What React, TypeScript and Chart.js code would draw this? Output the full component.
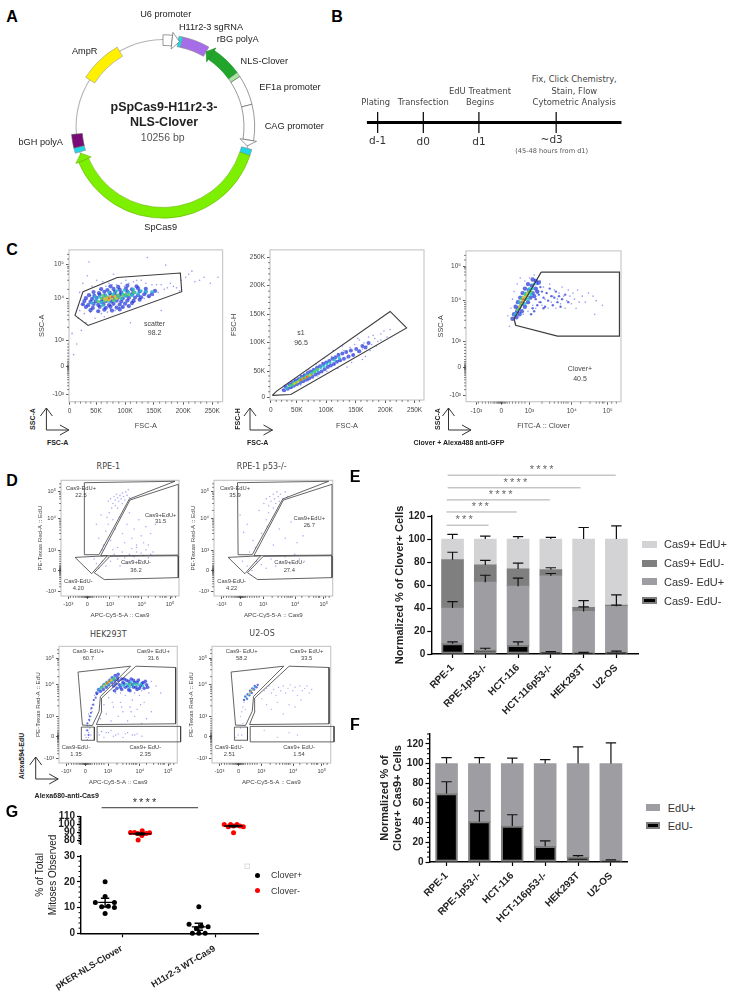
import React, { useEffect, useRef } from "react";
import { Chart, registerables } from "chart.js";
Chart.register(...registerables);

const ARIAL = '"Liberation Sans", Arial, sans-serif';
const DEJA = '"DejaVu Sans", sans-serif';

/* ---------- A: plasmid map (degrees clockwise from the top) ---------- */
const plasmidSpans = [6, 4, 2.5, 17.5, 4, 20, 3, 19, 23, 5.5, 4, 138.5, 6, 3.5, 8.5, 37.5, 27.5, 30];
const plasmidColors = ["#ffffff", "transparent", "#1fd5e8", "#a56ee8", "transparent", "#21a52a", "#a8e8a0", "#ffffff", "#ffffff", "transparent", "#1fd5e8", "#7cf000", "transparent", "#1fd5e8", "#7a0a78", "transparent", "#fff000", "transparent"];
const plasmidEdges = ["#555", "transparent", "#888", "#888", "transparent", "#1a8a22", "#777", "#555", "#555", "transparent", "#888", "#6ab000", "transparent", "#888", "#555", "transparent", "#999", "transparent"];
const plasmidArrows = [[0, 1, 5], [5, -1, 4], [8, 1, 4], [11, 1, 5]];
const plasmidLabels: any[] = [["U6 promoter", 165.7, 15.3], ["H11r2-3 sgRNA", 211, 28.3], ["rBG polyA", 237.7, 40], ["NLS-Clover", 264.3, 61.7], ["EF1a promoter", 290, 87.7], ["CAG promoter", 294.3, 126.7], ["AmpR", 84.7, 51.7], ["bGH polyA", 40.7, 143.3], ["SpCas9", 160.7, 227.7]];

/* ---------- B: timeline ---------- */
const timelineEvents = [4.3, 22.2, 44, 74.3];
const timelineTop: any[] = [["Plating", 375.7, 101.7], ["Transfection", 423.3, 101.7], ["EdU Treatment", 480, 90.7], ["Begins", 480, 101.7], ["Fix, Click Chemistry,", 574.3, 79.3], ["Stain, Flow", 574.3, 90.7], ["Cytometric Analysis", 574.3, 101.7]];
const timelineDays: any[] = [["d-1", 377.7, 140], ["d0", 423.3, 141], ["d1", 479, 141], ["~d3", 551.7, 139.3]];

/* ---------- flow axes, in display channel % ---------- */
const c1XPos = [0.3, 17.6, 36.5, 55.3, 74.4, 93.3];
const kLabels = ["0", "50K", "100K", "150K", "200K", "250K"];
const c1XMinor = [4, 7.5, 11, 14.2, 21, 24.8, 28.6, 32.4, 40, 44, 47.6, 51.5, 59, 63, 66.8, 70.6, 78, 82, 85.8, 89.6, 97];
const c2XPos = [0.6, 17.4, 36.4, 55.7, 74.9, 93.9];
const c2YPos = [1.7, 19.2, 38.2, 57.2, 76.2, 95];
const c2YMinor = [5.5, 9, 12.5, 16, 23, 27, 30.5, 34.5, 42, 46, 49.5, 53.5, 61, 65, 68.5, 72.5, 80, 84, 87.5, 91.5];
const c1YPos = [4.7, 23.2, 40.5, 68.2, 90.3];
const c3YPos = [4.3, 22.6, 40, 67.4, 89.8];
const c3XPos = [6.7, 22.7, 40.9, 68.2, 91.5];
const dXPos = [6.2, 22.3, 41.5, 68.4, 92.4];
const dYPos = [4.2, 22.1, 39.7, 66.9, 90];
const hXPos = [6.2, 22.3, 41.5, 68.4, 92.4];
const hYPos = [4.2, 22.6, 39.8, 67, 90];
const biexLabels = ["-10³", "0", "10³", "10⁴", "10⁵"];
const biexMinor = [8, 10.5, 12.5, 14.5, 16, 17.5, 18.5, 19.5, 20.3, 21, 21.5, 22, 22.5, 23, 23.5, 24, 24.8, 25.6, 26.6, 28, 30, 32, 34, 36, 38, 49, 54, 57, 59.5, 61.5, 63, 64.5, 65.8, 74, 80, 84, 86, 88, 89, 94, 97];

/* ---------- C: gates and events (channel %) ---------- */
const gateScatter = [9.1, 72.5, 31.4, 81.8, 72.5, 84.8, 73.4, 72.5, 12.4, 50.2, 3.9, 56.9, 9.1, 72.5];
const gateSinglets = [1.5, 3.1, 13.5, 3.7, 88.7, 48, 78, 59, 4.3, 5.9, 1.5, 3.1];
const gateClover = [48.5, 85.9, 99, 85.9, 99, 43.5, 59, 43.5, 32, 50.7, 31, 55, 48.5, 85.9];

const c1Sparse = [2,45,3,31,5,38,6,55,7,60,8,47,9,64,10,58,11,52,12,83,13,92,7,72,9,78,14,70,14,59,15,76,17,55,18,80,19,60,20,74,21,58,22,79,23,56,24,76,25,59,26,78,27,61,28,77,29,84,30,60,31,77,33,62,34,78,35,62,36,76,37,80,38,63,39,78,41,66,42,79,43,66,44,80,46,68,47,80,49,68,50,78,52,69,54,77,55,70,57,77,58,72,60,77,62,74,64,75,66,78,68,76,70,75,72,73,73,80,76,82,78,84,80,86,82,79,85,80,88,82,92,78,97,82,51,95,63,90,40,52,60,60];
const c1Blue = [14,60.3,19,59.6,23,60.6,28,60,33,60.8,11,62.4,15.5,61.8,20,62.5,24,61.9,27,62.6,31,62,35,62.4,39,63,9,64.2,12.5,63.6,16,64.4,19,63.8,22.5,64.3,26,63.7,29,64.5,33,64,36.5,64.6,41,65,10,66.3,14,65.7,17.5,66.2,21,65.8,24,66.4,27.5,66,31,66.5,34,66,38,66.6,42,66.4,46,67.2,11,68.2,15,67.7,18,68.4,22,67.8,25,68.3,28.5,67.9,32,68.5,35,68,39,68.4,43,68.6,47,68.8,52,69.5,13,70.2,16.5,69.7,20,70.4,23.5,69.9,27,70.3,30,70,33.5,70.5,37,70,41,70.6,45,70.2,49,70.8,54,71,16,72.2,19.5,71.6,23,72.4,26.5,71.8,30,72.3,34,71.9,38,72.5,42,72,46,72.6,50,72.4,56,73,21,74.2,25,73.6,29,74.3,33,73.8,37,74.4,41,74,45,74.6,50,74.4,27,76,32,75.6,38,76.4,44,76];
const c1Cyan = [15,65,18,67,21,65.5,20,69,23,67,24,70,26,66,27,69,29,71,30,67,32,69.5,34,68,35,71,37,69.5,39,72,41,70,43,72,45,71,47,73,50,72.5,17,69,22,63.5,26,72,31,73,36,73.5,54,72.5,42,74];
const c1Green = [19,66,21,68,23,66.5,24,69,25.5,67,27,68.5,28,70,30,68.5,32,70.5,33,68.5,35,70,37,71,22,70,29,66.5,39,70.5,42,72];
const c1Hot = [23,68,25,68.5,26,67,28,68,27,69.5,30,69.5,31,68,24,67];
const c1Core = [26,68,28,69];

const c2Sparse = [8,7,10,6,12,10,14,8,16,13,20,10,22,17,25,13,28,21,31,16,34,25,37,19,40,29,38,23,42,24,44,31,46,26,48,33,50,28,52,35,54,30,55,37,57,32,58,40,60,34,61,38,63,36,64,42,66,37,67,43,68,41,70,39,72,44,74,46,76,42,44,21,50,22,60,27,53,25,47,36,41,33,35,28,30,24,25,20,57,41,69,36,72,40,65,33,62,29,78,47];
const c2Blue = [9,6.5,10,9,11.5,7.5,12.5,10.5,13.5,8.5,14.5,11.5,15.5,9.5,16.5,13,17.5,10.5,18.5,14,19.5,11.5,20.5,15.5,21.5,12.5,22.5,16.5,23.5,13.5,24.5,18,25.5,14.5,26.5,19,27.5,15.5,28.5,20,29.5,17,30.5,21.5,31.5,18,32.5,22.5,33.5,19,34.5,24,35.5,20.5,36.5,25,37.5,22,38.5,26,39.5,23,40.5,27.5,41.5,24,42.5,28.5,43.5,25.5,44.5,30,45.5,26.5,47,31,48,27.5,49.5,32,51,29,52.5,33,54,30,56,34,58,32.5,60,36,62,35,64,38];
const c2Cyan = [11,8,13,9.5,14.5,10,15.5,11.5,17,12,18.5,12.5,19.5,14,21,14.5,22.5,15,23.5,16.5,25,16.5,26.5,17.5,28,18.5,29.5,19.5,31,20,33,21.5,35,22.5,37,24,39,25,42,26.5,45,28];
const c2Green = [13,9.5,15,10.5,17,11.5,19,13,21,14,23,15,25,16,27,17.5,29,19,31,20.5];
const c2Hot = [16,11,18,12,20,13.5,22,14.5,24,15.5,26,16.5];
const c2Core = [20,13.5,22,14.5,24,15.5];

const c3Sparse = [27,57,28,50,29,62,30,68,31,73,32,52,33,78,35,82,37,58,38,80,40,60,41,82,43,64,44,84,45,62,46,72,47,66,48,80,49,64,50,76,51,68,52,72,53,62,54,78,55,66,56,70,57,74,58,62,59,68,60,72,61,65,62,76,63,70,64,62,65,67,66,74,67,70,68,65,69,72,70,68,71,62,72,74,73,66,75,70,77,66,79,72,82,70,84,67,88,64,83,58];
const c3Mid = [44,60,46,64,45,68,47,71,48,66,50,69,49,73,51,63,52,72,53,67,54,75,55,70,56,64,57,69,58,73,59,66,60,70,61,63,62,68,64,71,66,66,46,78,43,62,48,76,50,62,42,58];
const c3Blue = [30,55,31,58,32.5,56,33,60,34.5,58,32,63,34,62,36,60,33.5,66,36,65,38,63,35,69,37.5,68,40,66,36.5,72,39,71,41.5,69,38,75,40.5,74,43,72,40,78,42.5,77,45,75,43,81,45,80,47,79,44,70,46,73];
const c3Cyan = [32,58,33.5,61,35,63,34.5,66,36.5,66,38,65,36.5,69,38.5,69,40,68,38.5,72,40.5,72,42,71,41,75,43,75,44,78];
const c3Green = [33.5,61,35,64,36.5,66,36,68,38,68,38,71,39.5,70,40.5,73,42,73];
const c3Hot = [34.5,63,36,65.5,37,67,37,69,38.5,69.5,39.5,71.5];
const c3Core = [36,66,37,68];

/* ---------- D: gates and events ---------- */
const gateNegPos = [19.8, 98, 96.6, 99.2, 57.9, 83.9, 32.2, 35.7, 20.3, 35.7, 19.8, 98];
const gatePosPos = [99.4, 96.6, 58.5, 83, 33.6, 34.8, 99.4, 35.4, 99.4, 96.6];
const gateNegNeg = [11.9, 33.4, 39.3, 34.8, 26, 19.3, 11.9, 33.4];
const gatePosNeg = [41.5, 34.3, 99.4, 34.8, 99.4, 15.9, 36.7, 14.2, 28.2, 20.1, 41.5, 34.3];
const gateHNegPos = [16.1, 78, 60.5, 83, 35, 57, 33.9, 44.4, 28.2, 32.2, 19.8, 32.5, 16.1, 78];
const gateHPosPos = [65, 83, 98.6, 81.9, 98.6, 33.6, 31.6, 33, 36.2, 44.4, 35.9, 55.6, 65, 83];
const gateHNegNeg = [18.9, 30.8, 29.9, 30.8, 29.9, 19.5, 18.9, 19.5, 18.9, 30.8];
const gateHPosNeg = [32.2, 31.4, 102.8, 31.4, 102.8, 18.1, 32.2, 18.1, 32.2, 31.4];

const rpeEvents = [40,82,42,84,44,80,45,86,46,83,47,88,48,85,49,82,50,87,51,84,52,89,53,86,54,83,55,90,56,87,57,92,58,85,46,78,43,76,41,72,39,68,52,80,48,76,30,62,32,50,34,70,36,44,38,56,40,62,42,48,44,66,46,58,48,42,50,68,52,54,54,46,56,62,58,72,60,50,62,58,64,42,66,66,68,52,70,46,72,60,74,44,76,54,78,38,80,62,35,40,44,40,28,32,30,28,32,24,35,30,38,26,40,34,42,30,45,36,48,32,50,26,52,38,54,33,56,28,58,36,60,41,62,34,64,38,66,31,68,37,70,35,72,40,74,33,76,36,64,44,68,30,60,30];
const p53Events = [42,80,44,84,46,78,47,86,48,82,50,88,51,84,52,80,53,90,54,86,55,82,56,88,58,84,60,90,62,86,50,76,46,72,44,66,22,70,25,55,28,62,33,48,38,74,40,54,45,60,50,44,55,58,60,50,65,64,70,46,75,52,80,60,35,42,30,38,24,30,28,26,32,22,36,30,40,27,44,24,48,32,52,26,56,30,60,34,64,28,68,36,72,32,76,30];
const hekSparse = [22,24,23,28,24,20,25,26,24,32,26,36,25,42,27,46,28,50,29,54,30,58,27,40,26,30,23,22,25,22,27,24,28,44,38,50,40,42,42,56,44,36,46,48,48,60,50,40,52,52,54,44,56,58,58,36,60,48,62,54,64,40,66,46,68,58,70,34,72,52,74,38,76,60,78,44,35,38,34,24,38,22,42,26,46,23,50,25,54,22,58,26,62,24,66,25,70,23,36,27,44,28,46,62,48,66,50,70,52,60,54,66,56,72,58,62,60,68,62,72,64,60,66,66,68,72,70,62,72,68,74,64,78,70,82,66,86,60,40,26,48,24,56,25,64,24,45,52,53,48,61,44,69,50];
const hekTail = [24,28,25,24,24,34,25.5,37,26,40,27,43,27.5,47,29,50,29.5,54,31,56,32,59];
const hekBlue = [32,60,33.5,63,35,61.5,36,65,37.5,63,38,67,40,65,40.5,69,42,67,43,71,44.5,69,45,73,47,71,47.5,75,49.5,73,50,76,46,66,49,64,51,67,53,63,54,69,56,65,57,71,59,63,60,68,61,72,63,65,64,69,66,63,67,71,69,66,71,69,72,64,74,67,50,71,53,72,47,62,48,68,52,65,55,68,58,66,60,62,62,67,65,65,66,69,68,64,70,68,73,70,75,65,55,72,59,70,63,71];
const hekCyan = [34,63,36,65,38,66,39,68,41,67,42,70,44,70,45,72,47,73,53,67,55,66,57,68,59,67,61,69,63,67,65,68,67,67,69,68,71,66,60,65];
const hekGreen = [36,64.5,38,66.5,40,67.5,41,69,43,70,45,71,46.5,72.5,60,67.5,65,67];
const hekHot = [38,66,40,68,42,69.5,44,71];
const hekCore = [40.5,68.5,42.5,70];
const u2Sparse = [24,40,25,44,26,48,27,52,26,34,28,46,24,30,22,24,20,22,25,24,44,62,46,64,48,66,50,60,52,63,54,58,56,65,58,62,60,66,62,60,64,64,66,67,68,62,70,65,72,58,74,66,76,62,78,64,80,66,82,60,84,63,42,55,46,50,50,46,55,52,60,42,65,50,70,48,75,54,44,28,55,22,65,26,72,24];
const u2Blue = [27,54,28,57,29.5,55,30,59,31.5,58,32,62,33.5,60,34,64,35.5,63,36,66,37.5,65,38.5,67];
const u2Cyan = [29,56,30.5,58,32,60,33,62,34.5,63,36,65];
const u2Hot = [31,59,32.5,61,34,62.5];
const u2Core = [33,61.3];

/* ---------- E ---------- */
const cellLines = ["RPE-1", "RPE-1p53-/-", "HCT-116", "HCT-116p53-/-", "HEK293T", "U2-OS"];
const lineIndex = [0, 1, 2, 3, 4, 5];
const eNegNeg = [9, 3.5, 7.5, 1.5, 1, 1.5];
const eNegPos = [31, 59, 51.5, 66.5, 36, 40];
const ePosNeg = [42, 15, 15, 5.5, 3.5, 1];
const ePosPos = [18, 22.5, 26, 26.5, 59.5, 57.5];
const eErrNegNeg = [1.5, 1.5, 3, 0.5, 0.5, 1];
const eErrNegPos = [5.5, 6, 7, 2, 4, 1];
const eErrPosNeg = [6.5, 4, 5, 1.5, 6, 9];
const eErrPosPos = [4, 2.5, 2, 1.5, 10, 11.5];
const eTicks = [0, 20, 40, 60, 80, 100, 120];
const eSig: any[] = [[-0.18, 1.1, 112, "***", 0.39], [-0.18, 1.96, 123.5, "***", 0.88], [-0.18, 2.97, 134, "****", 1.5], [-0.15, 3.91, 144.5, "****", 1.95], [-0.15, 4.98, 155.5, "****", 2.75]];
const eLegend: any[] = [["Cas9+ EdU+", "#d3d3d5", 544], ["Cas9+ EdU-", "#7f7f7f", 563], ["Cas9- EdU+", "#9d9da2", 581.7], ["Cas9- EdU-", "#000", 600.7]];

/* ---------- F ---------- */
const fNeg = [69.5, 41, 36.5, 16, 5, 1.5];
const fPos = [30.5, 59, 63.5, 84, 95, 98.5];
const fErrNeg = [12, 11, 11.5, 5.5, 1.5, 0.7];
const fErrPos = [6, 6, 5.5, 4, 17, 21];
const fTicks = [0, 20, 40, 60, 80, 100, 120];
const fMinor = [5, 10, 15, 25, 30, 35, 45, 50, 55, 65, 70, 75, 85, 90, 95, 105, 110, 115, 125, 130];

/* ---------- G ---------- */
const gGroups = ["pKER-NLS-Clover", "H11r2-3 WT-Cas9"];
const gPosLow = [-0.19,20,-0.19,14.3,-0.295,12,-0.09,12,-0.227,10.3,-0.155,10.5,-0.09,10,-0.19,7.7,0.817,10.3,0.712,3.5,0.845,2.7,0.917,2.5,0.748,0,0.817,0,0.885,0,0.791,1.9];
const gNegHigh = [0.083,89.8,0.126,89.8,0.209,92,0.288,89.4,0.165,80,0.205,86,0.162,88.5,0.252,88.5,1.09,100,1.158,100,1.227,100,1.295,97,1.19,89.4,1.133,97,1.259,98,1.19,98];
const gLowTicks = [0, 10, 20, 30];
const gLowMinor = [2, 4, 6, 8, 12, 14, 16, 18, 22, 24, 26, 28];
const gHighTicks = [80, 90, 100, 110];
const gHighMinor = [76, 78, 82, 84, 86, 88, 92, 94, 96, 98, 102, 104, 106, 108];
const gLowMeans: any[] = [[-0.19, 12, 10.2, 13.6, 0.075, 0.045], [0.817, 2.5, 1.2, 3.9, 0.075, 0.045]];
const gHighMeans: any[] = [[0.187, 88, 86.8, 89.2, 0.12, 0.05], [1.19, 98, 97.2, 98.8, 0.1, 0.05]];

const pairs = (a: number[]) => {
  const o: any[] = [];
  for (let i = 0; i + 1 < a.length; i += 2) o.push({ x: a[i], y: a[i + 1] });
  return o;
};

function ChartBox({ spec }: { spec: any }) {
  const ref = useRef<HTMLCanvasElement>(null);
  const cl = Math.floor(spec.cl);
  const ct = Math.floor(spec.ct);
  const cw = Math.ceil(spec.cr - cl);
  const ch = Math.ceil(spec.cb - ct);
  useEffect(() => {
    const m = { mL: spec.L - cl, mT: spec.T - ct, mR: cl + cw - spec.R, mB: ct + ch - spec.B };
    const { flush, padBottom, ...cfg } = spec.config(m);
    cfg.options = { responsive: false, maintainAspectRatio: false, animation: false, devicePixelRatio: 1, events: [], ...cfg.options };
    cfg.options.layout = { padding: { left: flush ? m.mL : 0, top: m.mT, right: m.mR, bottom: flush || padBottom ? m.mB : 0 } };
    cfg.options.plugins = { legend: { display: false }, tooltip: { enabled: false }, ...(cfg.options.plugins || {}) };
    const chart = new Chart(ref.current as HTMLCanvasElement, cfg);
    return () => chart.destroy();
  }, []);
  return <canvas ref={ref} width={cw} height={ch} style={{ position: "absolute", left: cl, top: ct, width: cw, height: ch }} />;
}

const mk = (L: number, T: number, R: number, B: number, pad: number[], config: (m: any) => any): any => ({ L, T, R, B, cl: L - pad[0], ct: T - pad[1], cr: R + pad[2], cb: B + pad[3], config });

const tickAxis = (list: number[], labels: any[]) => ({
  afterBuildTicks: (s: any) => { s.ticks = list.map((value) => ({ value })); },
  cb: (v: any) => { const i = list.indexOf(v); return i < 0 ? "" : labels[i]; },
});

const minorPlugin = (xs: number[], ys: number[], len: number, color: string, width = 0.8) => ({
  id: "minorTicks",
  afterDatasetsDraw(c: any) {
    const { ctx, chartArea: a } = c;
    ctx.save();
    ctx.strokeStyle = color;
    ctx.lineWidth = width;
    ctx.beginPath();
    xs.forEach((v) => { const p = c.scales.x.getPixelForValue(v); ctx.moveTo(p, a.bottom); ctx.lineTo(p, a.bottom + len); });
    ys.forEach((v) => { const p = c.scales.y.getPixelForValue(v); ctx.moveTo(a.left, p); ctx.lineTo(a.left - len, p); });
    ctx.stroke();
    ctx.restore();
  },
});

const framePlugin = {
  id: "flowFrame",
  beforeDatasetsDraw(c: any) {
    const { ctx, chartArea: a } = c;
    ctx.save();
    ctx.strokeStyle = "#c9c9c9";
    ctx.lineWidth = 1.2;
    ctx.strokeRect(a.left, a.top, a.right - a.left, a.bottom - a.top);
    ctx.restore();
  },
};

function flowSpec(o: any) {
  return mk(o.L, o.T, o.R, o.B, [o.mL, 3, 12, o.mB], () => {
    const xt = tickAxis(o.xPos, o.xLab);
    const yt = tickAxis(o.yPos, o.yLab);
    const sets: any[] = [];
    (o.gates || []).forEach((g: number[]) => sets.push({ data: pairs(g), showLine: true, borderColor: "#3c3c3c", borderWidth: o.gw || 1, pointRadius: 0, fill: false, clip: false, tension: 0 }));
    [...o.layers].reverse().forEach((l: any) => sets.push({ data: pairs(l.pts), backgroundColor: l.color, borderWidth: 0, pointRadius: l.r, pointStyle: "circle" }));
    const font = { family: ARIAL, size: o.tick };
    return {
      type: "scatter",
      data: { datasets: sets },
      options: {
        scales: {
          x: {
            type: "linear", min: 0, max: 100,
            afterBuildTicks: xt.afterBuildTicks,
            afterFit: (s: any) => { s.height = o.mB; },
            grid: { display: true, drawOnChartArea: false, tickLength: 3, tickColor: "#333", tickWidth: 0.8 },
            border: { display: false },
            ticks: { callback: xt.cb, font, color: "#444", padding: o.xPad ?? 3, autoSkip: false, maxRotation: 0, minRotation: 0 },
            title: { display: true, text: o.xTitle, font: { family: ARIAL, size: o.title, lineHeight: 1.2 }, color: "#444", padding: 0 },
          },
          y: {
            type: "linear", min: 0, max: 100,
            afterBuildTicks: yt.afterBuildTicks,
            afterFit: (s: any) => { s.width = o.mL; },
            grid: { display: true, drawOnChartArea: false, tickLength: 3, tickColor: "#333", tickWidth: 0.8 },
            border: { display: false },
            ticks: { callback: yt.cb, font, color: "#444", padding: 2, autoSkip: false },
            title: { display: true, text: o.yTitle, font: { family: ARIAL, size: o.title, lineHeight: 1.2 }, color: "#444", padding: 0 },
          },
        },
      },
      plugins: [framePlugin, minorPlugin(o.xMinor, o.yMinor, 2, "#333", 0.6)],
    };
  });
}

const SPARSE = "rgba(80,85,235,0.6)";
const PALE = "rgba(120,120,240,0.6)";
const BLUE = "rgba(30,50,215,0.7)";
const CYAN = "rgba(35,195,205,0.85)";
const GREEN = "rgba(85,210,95,0.9)";
const HOT = "#e8c038";
const CORE = "#e85a30";

function errorPlugin(tops: number[][], errs: number[][], cap: number) {
  return {
    id: "errorCaps",
    afterDatasetsDraw(c: any) {
      const { ctx } = c;
      ctx.save();
      ctx.strokeStyle = "#111";
      ctx.lineWidth = 1.2;
      ctx.beginPath();
      tops.forEach((top, s) => top.forEach((t, i) => {
        const x = c.scales.x.getPixelForValue(i);
        const y0 = c.scales.y.getPixelForValue(t);
        const y1 = c.scales.y.getPixelForValue(t + errs[s][i]);
        ctx.moveTo(x, y0); ctx.lineTo(x, y1);
        ctx.moveTo(x - cap, y1); ctx.lineTo(x + cap, y1);
      }));
      ctx.stroke();
      ctx.restore();
    },
  };
}

function sigPlugin(items: any[], color: string, lineColor: string, starDy: number) {
  return {
    id: "sigBars",
    afterDatasetsDraw(c: any) {
      const { ctx, scales } = c;
      ctx.save();
      items.forEach(([a, b, v, label, sx]) => {
        const y = scales.y.getPixelForValue(v);
        ctx.strokeStyle = lineColor;
        ctx.lineWidth = 1;
        ctx.beginPath();
        ctx.moveTo(scales.x.getPixelForValue(a), y);
        ctx.lineTo(scales.x.getPixelForValue(b), y);
        ctx.stroke();
        ctx.fillStyle = color;
        ctx.font = `11px ${ARIAL}`;
        (ctx as any).letterSpacing = "2.2px";
        ctx.textAlign = "center";
        ctx.textBaseline = "middle";
        ctx.fillText(label, scales.x.getPixelForValue(sx), y - starDy);
      });
      ctx.restore();
    },
  };
}

function meanPlugin(items: any[]) {
  return {
    id: "meanBars",
    afterDatasetsDraw(c: any) {
      const { ctx, scales: s } = c;
      ctx.save();
      ctx.strokeStyle = "#000";
      items.forEach(([x, m, lo, hi, hw, cap]) => {
        const px = (v: number) => s.x.getPixelForValue(v);
        const py = (v: number) => s.y.getPixelForValue(v);
        ctx.lineWidth = 1.4;
        ctx.beginPath();
        ctx.moveTo(px(x - hw), py(m)); ctx.lineTo(px(x + hw), py(m));
        ctx.moveTo(px(x), py(lo)); ctx.lineTo(px(x), py(hi));
        ctx.moveTo(px(x - cap), py(lo)); ctx.lineTo(px(x + cap), py(lo));
        ctx.moveTo(px(x - cap), py(hi)); ctx.lineTo(px(x + cap), py(hi));
        ctx.stroke();
      });
      ctx.restore();
    },
  };
}

const asBars = (vals: number[]) => vals.map((y, i) => ({ x: lineIndex[i], y }));
const cumulate = (rows: number[][]) => {
  const run = rows[0].map(() => 0);
  return rows.map((r) => r.map((v, i) => (run[i] += v)));
};

function barSpec(o: any) {
  return mk(o.L, o.T, o.R, o.B, [o.mL, o.mT, 8, 70], () => {
    const xt = tickAxis(lineIndex, cellLines);
    const yt = tickAxis(o.yTicks, o.yTicks.map(String));
    const axisFont = { family: ARIAL, size: 10, weight: "bold" as const };
    return {
      type: "bar",
      data: {
        datasets: o.rows.map((r: any) => ({
          label: r.label, data: asBars(r.values), backgroundColor: r.color,
          borderColor: r.edge || r.color, borderWidth: r.edge ? 2 : 0, borderSkipped: false, barThickness: 22,
        })),
      },
      options: {
        parsing: { xAxisKey: "x", yAxisKey: "y" },
        scales: {
          x: {
            type: "linear", offset: false, stacked: true, min: o.xMin, max: o.xMax, afterBuildTicks: xt.afterBuildTicks,
            afterFit: (s: any) => { s.height = 70; },
            grid: { display: true, offset: false, drawOnChartArea: false, tickLength: 4, tickColor: "#000", tickWidth: 1.2 },
            border: { color: "#000", width: 1.4 },
            ticks: { callback: xt.cb, font: axisFont, color: "#222", autoSkip: false, minRotation: 45, maxRotation: 45, padding: 4 },
          },
          y: {
            type: "linear", stacked: true, min: 0, max: o.yMax, afterBuildTicks: yt.afterBuildTicks,
            afterFit: (s: any) => { s.width = o.mL; },
            grid: { display: true, drawOnChartArea: false, tickLength: 4, tickColor: "#000", tickWidth: 1.2 },
            border: { color: "#000", width: 1.4 },
            ticks: { callback: yt.cb, font: axisFont, color: "#222", autoSkip: false, padding: 2 },
            title: { display: true, text: o.title, font: { family: ARIAL, size: 11, weight: "bold", lineHeight: 1.18 }, color: "#222", padding: 0 },
          },
        },
      },
      plugins: [errorPlugin(cumulate(o.rows.map((r: any) => r.values)), o.errs, 5.2), minorPlugin([], o.minor || [], 2.5, "#000", 1), ...(o.extra || [])],
    };
  });
}

function dotsSpec(o: any) {
  return mk(o.L, o.T, o.R, o.B, o.pad, () => {
    const yt = tickAxis(o.yTicks, o.yTicks.map(String));
    const xt = tickAxis([0, 1], gGroups);
    const axisFont = { family: ARIAL, size: 10, weight: "bold" as const };
    return {
      type: "scatter",
      padBottom: !o.showX,
      data: { datasets: [{ label: o.label, data: pairs(o.pts), backgroundColor: o.color, pointRadius: 2.5, borderWidth: 0, clip: false }] },
      options: {
        scales: {
          x: {
            type: "linear", min: -0.449, max: 1.456, display: o.showX, afterBuildTicks: xt.afterBuildTicks,
            afterFit: (s: any) => { s.height = o.showX ? o.pad[3] : 0; },
            grid: { display: true, drawOnChartArea: false, tickLength: 4, tickColor: "#000", tickWidth: 1.2 },
            border: { color: "#000", width: 1.4 },
            ticks: { callback: xt.cb, font: { family: ARIAL, size: 9, weight: "bold" as const }, color: "#222", autoSkip: false, minRotation: 31, maxRotation: 31, padding: 6, labelOffset: -1 },
          },
          y: {
            type: "linear", min: o.yMin, max: o.yMax, afterBuildTicks: yt.afterBuildTicks,
            afterFit: (s: any) => { s.width = o.pad[0]; },
            grid: { display: true, drawOnChartArea: false, tickLength: 4, tickColor: "#000", tickWidth: 1.2 },
            border: { color: "#000", width: 1.4 },
            ticks: { callback: yt.cb, font: axisFont, color: "#222", autoSkip: false, padding: 2 },
          },
        },
      },
      plugins: [minorPlugin([], o.minor, 2.5, "#000", 1), meanPlugin(o.means), ...(o.extra || [])],
    };
  });
}

const specs: any[] = [
  // A: backbone ring
  mk(75.5, 39, 250.5, 214, [0, 0, 1, 1], () => ({
    type: "doughnut", flush: true,
    data: { datasets: [{ data: [360], backgroundColor: ["#b4b4b4"], borderWidth: 0 }] },
    options: { cutout: 86.4 },
  })),
  // A: features
  mk(71, 34.5, 255, 218.5, [13, 13, 13, 13], () => ({
    type: "doughnut", flush: true,
    data: { labels: plasmidSpans.map((_, i) => String(i)), datasets: [{ data: plasmidSpans, backgroundColor: plasmidColors, borderColor: plasmidEdges, borderWidth: 0.6 }] },
    options: { cutout: 81, rotation: 0 },
    plugins: [{
      id: "arrowHeads",
      afterDatasetsDraw(c: any) {
        const { ctx } = c;
        const arcs = c.getDatasetMeta(0).data;
        ctx.save();
        plasmidArrows.forEach(([i, dir, deg]) => {
          const a = arcs[i];
          const base = dir > 0 ? a.endAngle : a.startAngle;
          const tip = base + (dir * deg * Math.PI) / 180;
          const mid = (a.innerRadius + a.outerRadius) / 2;
          const pt = (r: number, t: number) => [a.x + r * Math.cos(t), a.y + r * Math.sin(t)];
          const p1 = pt(a.innerRadius - 3, base), p2 = pt(a.outerRadius + 3, base), p3 = pt(mid, tip);
          ctx.beginPath();
          ctx.moveTo(p1[0], p1[1]); ctx.lineTo(p2[0], p2[1]); ctx.lineTo(p3[0], p3[1]); ctx.closePath();
          ctx.fillStyle = plasmidColors[i];
          ctx.strokeStyle = plasmidEdges[i];
          ctx.lineWidth = 0.6;
          ctx.fill();
          ctx.stroke();
        });
        ctx.restore();
      },
    }],
  })),
  // B: timeline
  mk(366.7, 112, 621.7, 133, [2, 2, 2, 2], () => ({
    type: "scatter", flush: true,
    data: {
      datasets: [
        { data: [{ x: 0, y: 0 }, { x: 100, y: 0 }], showLine: true, borderColor: "#000", borderWidth: 3.2, pointRadius: 0 },
        ...timelineEvents.map((x) => ({ data: [{ x, y: -1 }, { x, y: 1 }], showLine: true, borderColor: "#000", borderWidth: 1.2, pointRadius: 0 })),
      ],
    },
    options: { scales: { x: { type: "linear", min: 0, max: 100, display: false }, y: { type: "linear", min: -1, max: 1, display: false } } },
  })),
];

/* C */
specs.push(flowSpec({
  L: 69, T: 247.7, R: 222.6, B: 401.7, mL: 31, mB: 28.3, tick: 6.5, title: 7.3,
  xPos: c1XPos, xLab: kLabels, yPos: c1YPos, yLab: biexLabels, xMinor: c1XMinor, yMinor: biexMinor,
  xTitle: "FSC-A", yTitle: "SSC-A", gates: [gateScatter], gw: 1.1,
  layers: [{ pts: c1Sparse, r: 0.8, color: SPARSE }, { pts: c1Blue, r: 2.1, color: BLUE }, { pts: c1Cyan, r: 1.6, color: CYAN }, { pts: c1Green, r: 1.5, color: GREEN }, { pts: c1Hot, r: 1.3, color: HOT }, { pts: c1Core, r: 1, color: CORE }],
}));
specs.push(flowSpec({
  L: 270.9, T: 247.3, R: 424, B: 400, mL: 40, mB: 30, tick: 6.5, title: 7.3,
  xPos: c2XPos, xLab: kLabels, yPos: c2YPos, yLab: kLabels, xMinor: c1XMinor, yMinor: c2YMinor,
  xTitle: "FSC-A", yTitle: "FSC-H", gates: [gateSinglets], gw: 1.1,
  layers: [{ pts: c2Sparse, r: 0.8, color: SPARSE }, { pts: c2Blue, r: 2, color: BLUE }, { pts: c2Cyan, r: 1.6, color: CYAN }, { pts: c2Green, r: 1.5, color: GREEN }, { pts: c2Hot, r: 1.3, color: HOT }, { pts: c2Core, r: 1, color: CORE }],
}));
specs.push(flowSpec({
  L: 466, T: 248.3, R: 621, B: 401.7, mL: 29, mB: 28.3, tick: 6.5, title: 7.3,
  xPos: c3XPos, xLab: biexLabels, yPos: c3YPos, yLab: biexLabels, xMinor: biexMinor, yMinor: biexMinor,
  xTitle: "FITC-A :: Clover", yTitle: "SSC-A", gates: [gateClover], gw: 1.2,
  layers: [{ pts: c3Sparse, r: 0.8, color: SPARSE }, { pts: c3Mid, r: 1.2, color: BLUE }, { pts: c3Blue, r: 2.2, color: BLUE }, { pts: c3Cyan, r: 1.7, color: CYAN }, { pts: c3Green, r: 1.5, color: GREEN }, { pts: c3Hot, r: 1.3, color: HOT }, { pts: c3Core, r: 1, color: CORE }],
}));

/* D */
const dCommon = { tick: 5.6, title: 6.2, xLab: biexLabels, yLab: biexLabels, xMinor: biexMinor, yMinor: biexMinor, xTitle: "APC-Cy5-5-A :: Cas9", yTitle: "PE-Texas Red-A :: EdU", gw: 0.8, xPad: 2 };
const dGates = [gateNegPos, gatePosPos, gateNegNeg, gatePosNeg];
const hGates = [gateHNegPos, gateHPosPos, gateHNegNeg, gateHPosNeg];
specs.push(flowSpec({ ...dCommon, L: 61, T: 478.3, R: 179, B: 596, mL: 24, mB: 23, xPos: dXPos, yPos: dYPos, gates: dGates, layers: [{ pts: rpeEvents, r: 0.8, color: PALE }] }));
specs.push(flowSpec({ ...dCommon, L: 214.3, T: 478.3, R: 332.7, B: 596, mL: 24, mB: 23, xPos: dXPos, yPos: dYPos, gates: dGates, layers: [{ pts: p53Events, r: 0.8, color: PALE }] }));
specs.push(flowSpec({ ...dCommon, L: 59.3, T: 644.3, R: 177.3, B: 762.3, mL: 24, mB: 23, xPos: hXPos, yPos: hYPos, gates: hGates, layers: [{ pts: hekSparse, r: 0.7, color: SPARSE }, { pts: hekTail, r: 1.1, color: BLUE }, { pts: hekBlue, r: 1.8, color: BLUE }, { pts: hekCyan, r: 1.3, color: CYAN }, { pts: hekGreen, r: 1.2, color: GREEN }, { pts: hekHot, r: 1.1, color: HOT }, { pts: hekCore, r: 0.9, color: CORE }] }));
specs.push(flowSpec({ ...dCommon, L: 212.7, T: 644.3, R: 330.7, B: 762.3, mL: 24, mB: 23, xPos: hXPos, yPos: hYPos, gates: hGates, layers: [{ pts: u2Sparse, r: 0.7, color: PALE }, { pts: u2Blue, r: 1.2, color: BLUE }, { pts: u2Cyan, r: 0.9, color: CYAN }, { pts: u2Hot, r: 0.8, color: HOT }, { pts: u2Core, r: 0.7, color: CORE }] }));

/* E */
specs.push(barSpec({
  L: 431.7, T: 516, R: 638, B: 653.3, mL: 38.2, mT: 52, xMin: -0.651, xMax: 5.66, yMax: 120, yTicks: eTicks,
  title: "Normalized % of Clover+ Cells",
  rows: [
    { label: "Cas9- EdU-", values: eNegNeg, color: "#000", edge: "#7d7d7d" },
    { label: "Cas9- EdU+", values: eNegPos, color: "#9d9da2" },
    { label: "Cas9+ EdU-", values: ePosNeg, color: "#7f7f7f" },
    { label: "Cas9+ EdU+", values: ePosPos, color: "#d3d3d5" },
  ],
  errs: [eErrNegNeg, eErrNegPos, eErrPosNeg, eErrPosPos],
  extra: [sigPlugin(eSig, "#666", "#aaa", 5)],
}));

/* F */
specs.push(barSpec({
  L: 430, T: 730, R: 627.7, B: 861.3, mL: 51.5, mT: 4, xMin: -0.518, xMax: 5.51, yMax: 130, yTicks: fTicks, minor: fMinor,
  title: ["Normalized % of", "Clover+ Cas9+ Cells"],
  rows: [
    { label: "EdU-", values: fNeg, color: "#000", edge: "#7d7d7d" },
    { label: "EdU+", values: fPos, color: "#9d9da2" },
  ],
  errs: [fErrNeg, fErrPos],
}));

/* G */
specs.push(dotsSpec({
  L: 81.7, T: 852.7, R: 258.3, B: 933.3, pad: [48, 4, 4, 59.7], yMin: 0, yMax: 30, yTicks: gLowTicks, minor: gLowMinor, showX: true,
  label: "Clover+", pts: gPosLow, color: "#000", means: gLowMeans,
}));
specs.push(dotsSpec({
  L: 81.7, T: 816.7, R: 258.3, B: 844, pad: [30, 18, 4, 8], yMin: 75, yMax: 110, yTicks: gHighTicks, minor: gHighMinor, showX: false,
  label: "Clover-", pts: gNegHigh, color: "#f00", means: gHighMeans,
  extra: [sigPlugin([[-0.227, 0.809, 121.5, "****", 0.245]], "#333", "#333", 5)],
}));

function T({ x, y, children, size = 8, font = ARIAL, weight = 400, color = "#333", rot = 0, anchor = "center" }: any) {
  const tx = anchor === "center" ? "-50%" : "0";
  return (
    <div style={{ position: "absolute", left: x, top: y, fontFamily: font, fontSize: size, fontWeight: weight, color, lineHeight: 1, whiteSpace: "nowrap", transform: `translate(${tx},-50%) rotate(${rot}deg)` }}>
      {children}
    </div>
  );
}

function Triad({ x, y, w, h }: any) {
  return (
    <path d={`M${x} ${y}L${x} ${y - h}M${x - 6} ${y - h + 8}L${x} ${y - h}L${x + 6} ${y - h + 8}M${x} ${y}L${x + w} ${y}M${x + w - 9} ${y - 5}L${x + w} ${y}L${x + w - 9} ${y + 5}`} stroke="#333" strokeWidth="1" fill="none" />
  );
}

const panelLetters: any[] = [["A", 12, 17], ["B", 337, 17], ["C", 12, 250], ["D", 12, 481], ["E", 355, 477], ["F", 355, 725], ["G", 12, 812]];
const cGateText: any[] = [["scatter", 154.6, 323], ["98.2", 154.6, 332], ["s1", 301, 332.3], ["96.5", 301, 341.7], ["Clover+", 580, 368.3], ["40.5", 580, 377.7]];
const dGateText: any[] = [
  ["Cas9-EdU+", 81, 489], ["22.5", 81, 495.7], ["Cas9+EdU+", 160.7, 515.7], ["31.5", 160.7, 522.3], ["Cas9+EdU-", 136, 563.3], ["36.2", 136, 570.7], ["Cas9-EdU-", 78.3, 582], ["4.20", 78.3, 589],
  ["Cas9-EdU+", 235, 489], ["35.9", 235, 495.7], ["Cas9+EdU+", 309.3, 519], ["26.7", 309.3, 526], ["Cas9+EdU-", 289.3, 563.3], ["27.4", 289.3, 570.7], ["Cas9-EdU-", 231.7, 582], ["4.22", 231.7, 589],
  ["Cas9- EdU+", 88.3, 652.3], ["60.7", 88.3, 659], ["Cas9+ EdU+", 153.3, 652.3], ["31.6", 153.3, 659], ["Cas9-EdU-", 76, 748], ["1.35", 76, 755], ["Cas9+ EdU-", 145.3, 748], ["2.35", 145.3, 755],
  ["Cas9- EdU+", 241.7, 652.3], ["58.2", 241.7, 659], ["Cas9+ EdU+", 306.7, 652.3], ["33.5", 306.7, 659], ["Cas9-EdU-", 229.3, 748], ["2.51", 229.3, 755], ["Cas9+ EdU-", 299, 748], ["1.54", 299, 755],
];
const dTitles: any[] = [["RPE-1", 108.3, 467.3], ["RPE-1 p53-/-", 261.7, 467.3], ["HEK293T", 108.3, 635], ["U2-OS", 262, 633.7]];

export default function App() {
  return (
    <div style={{ position: "absolute", left: 0, top: 0, width: 731, height: 993, overflow: "hidden", background: "#fff" }}>
      <svg width="731" height="993" style={{ position: "absolute", left: 0, top: 0 }}>
        <Triad x={46.4} y={430} w={22.5} h={22} />
        <Triad x={250} y={430} w={22.5} h={22} />
        <Triad x={448.5} y={430} w={22.5} h={22} />
        <Triad x={35.7} y={779} w={22.5} h={22} />
        <rect x="245" y="864" width="4.5" height="4.5" fill="#fff" stroke="#ddd" strokeWidth="1" />
      </svg>
      {specs.map((s, i) => <ChartBox key={i} spec={s} />)}

      {panelLetters.map(([t, x, y]) => <T key={t} x={x} y={y} size={16} weight={700} color="#000">{t}</T>)}

      {plasmidLabels.map(([t, x, y]) => <T key={t} x={x} y={y} size={9.2} color="#222">{t}</T>)}
      <T x={164} y={106.7} size={12.5} weight={700} color="#222">pSpCas9-H11r2-3-</T>
      <T x={164} y={121.7} size={12.5} weight={700} color="#222">NLS-Clover</T>
      <T x={162.7} y={137.3} size={10.5} color="#555">10256 bp</T>

      {timelineTop.map(([t, x, y]) => <T key={t} x={x} y={y} size={8.4} font={DEJA} color="#444">{t}</T>)}
      {timelineDays.map(([t, x, y]) => <T key={t} x={x} y={y} size={10.5} font={DEJA} color="#333">{t}</T>)}
      <T x={551.7} y={151} size={6.6} font={DEJA} color="#555">(45-48 hours from d1)</T>

      {cGateText.map(([t, x, y]) => <T key={t} x={x} y={y} size={7} color="#444">{t}</T>)}
      <T x={32} y={419} size={7} weight={700} rot={-90} color="#222">SSC-A</T>
      <T x={57.6} y={442} size={7} weight={700} color="#222">FSC-A</T>
      <T x={236.6} y={419} size={7} weight={700} rot={-90} color="#222">FSC-H</T>
      <T x={257.7} y={442} size={7} weight={700} color="#222">FSC-A</T>
      <T x={437} y={419} size={7} weight={700} rot={-90} color="#222">SSC-A</T>
      <T x={459} y={442} size={7} weight={700} color="#222">Clover + Alexa488 anti-GFP</T>

      {dTitles.map(([t, x, y]) => <T key={t} x={x} y={y} size={8} font={DEJA} color="#444">{t}</T>)}
      {dGateText.map(([t, x, y], i) => <T key={i} x={x} y={y} size={5.8} color="#444">{t}</T>)}
      <T x={20.7} y={755.7} size={7} weight={700} rot={-90} color="#222">Alexa594-EdU</T>
      <T x={66.7} y={795} size={7} weight={700} color="#222">Alexa680-anti-Cas9</T>

      {eLegend.map(([t, c, y]) => (
        <React.Fragment key={t}>
          <div style={{ position: "absolute", left: 642, top: y - 3.5, width: 15, height: 7, boxSizing: "border-box", background: c, border: c === "#000" ? "2px solid #7d7d7d" : "none" }} />
          <T x={664} y={y} size={11} color="#333" anchor="left">{t}</T>
        </React.Fragment>
      ))}

      <div style={{ position: "absolute", left: 646, top: 804, width: 14, height: 7, background: "#9d9da2" }} />
      <T x={667.7} y={807.7} size={11} color="#333" anchor="left">EdU+</T>
      <div style={{ position: "absolute", left: 646, top: 822, width: 14, height: 7, boxSizing: "border-box", background: "#000", border: "2px solid #7d7d7d" }} />
      <T x={667.7} y={825.7} size={11} color="#333" anchor="left">EdU-</T>

      <T x={40} y={875} size={10} rot={-90} color="#222">% of Total</T>
      <T x={52.7} y={875} size={10} rot={-90} color="#222">Mitoses Observed</T>
      <div style={{ position: "absolute", left: 255, top: 872.5, width: 5, height: 5, borderRadius: "50%", background: "#000" }} />
      <div style={{ position: "absolute", left: 255, top: 888.2, width: 5, height: 5, borderRadius: "50%", background: "#f00" }} />
      <T x={271} y={875} size={9} color="#333" anchor="left">Clover+</T>
      <T x={271} y={890.7} size={9} color="#333" anchor="left">Clover-</T>
    </div>
  );
}
